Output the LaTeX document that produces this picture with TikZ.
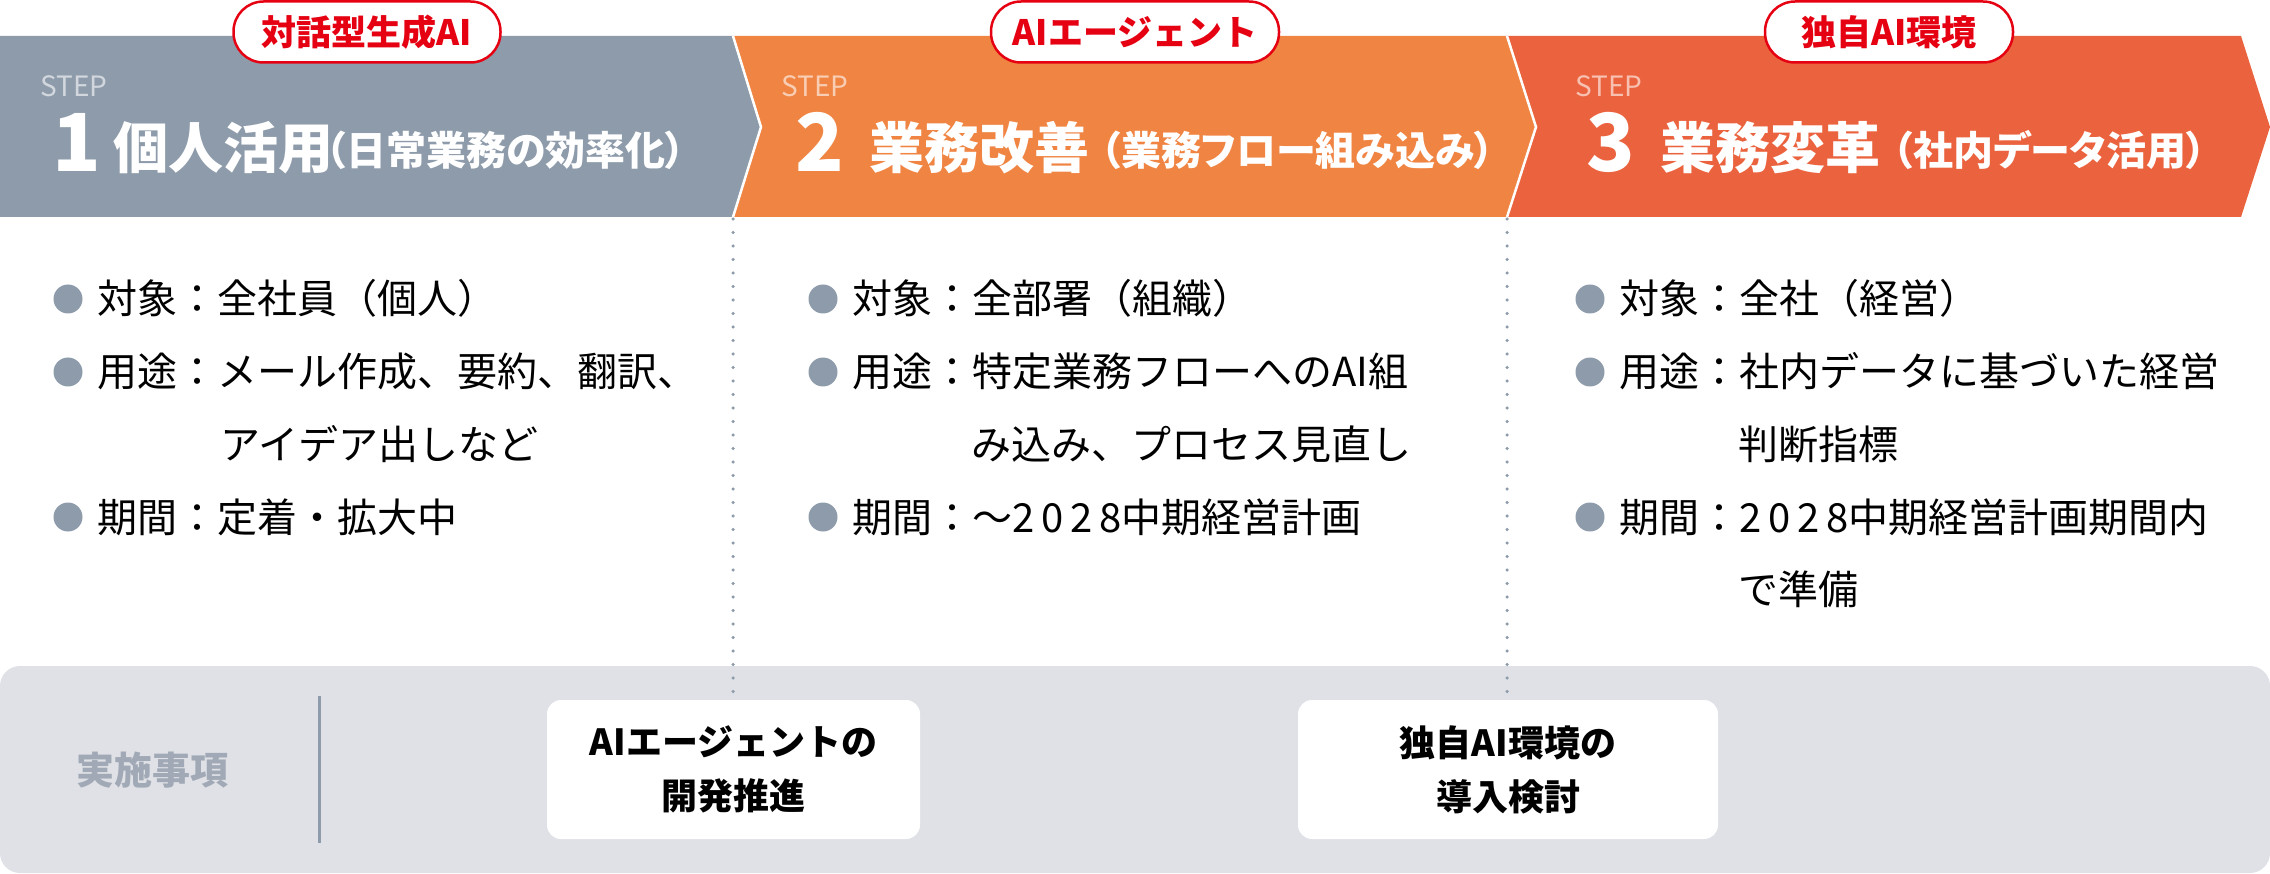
\documentclass[tikz,border=0pt]{standalone}
\usepackage{fontspec}
\setmainfont{Noto Sans CJK JP}
\newfontfamily\jpp{Noto Sans CJK JP}[RawFeature=+palt]
\newcommand\dgs[1]{{\addfontfeature{LetterSpace=17}#1}}
\definecolor{cgrey}{HTML}{8E9BAA}
\definecolor{corange}{HTML}{F08442}
\definecolor{cred}{HTML}{EB633E}
\definecolor{ctag}{HTML}{E50012}
\definecolor{cpanel}{HTML}{DFE1E6}
\definecolor{clabel}{HTML}{A0A9B5}
\tikzset{
  band/.style={draw=none},
  sep/.style={draw=white, line width=2.5pt, line join=miter},
  tagbox/.style={draw=ctag, fill=white, line width=2.5pt, rounded corners=30pt,
    minimum width=267pt, minimum height=61pt, inner sep=0pt, text=ctag,
    font=\fontsize{35}{40}\selectfont\bfseries},
  steplbl/.style={inner sep=0pt, anchor=base west, text=white, text opacity=0.6,
    font=\fontsize{28}{30}\selectfont},
  stepnum/.style={inner sep=0pt, anchor=base west, text=white,
    font=\fontsize{80}{90}\selectfont\bfseries},
  stepttl/.style={inner sep=0pt, anchor=base west, text=white,
    font=\fontsize{55}{60}\selectfont\bfseries\jpp},
  stepsub/.style={inner sep=0pt, anchor=base west, text=white,
    font=\fontsize{40}{44}\selectfont\bfseries\jpp},
  body/.style={inner sep=0pt, anchor=base west, text=black,
    font=\fontsize{40}{48}\selectfont},
  dot/.style={circle, fill=cgrey, minimum size=29pt, inner sep=0pt},
  dotline/.style={draw=cgrey, line width=3.5pt, line cap=round, dash pattern=on 0pt off 13.5pt},
  task/.style={fill=white, rounded corners=14pt, inner sep=0pt, align=center,
    font=\fontsize{36}{54}\selectfont\bfseries, text=black},
}
\begin{document}
\begin{tikzpicture}[x=1pt,y=-1pt]
\useasboundingbox (0,0) rectangle (2270,874);
% bands
\fill[cgrey] (0,36) -- (733,36) -- (761,127) -- (733,217) -- (0,217) -- cycle;
\fill[corange] (733,36) -- (1507,36) -- (1536,127) -- (1507,217) -- (733,217) -- (761,127) -- cycle;
\fill[cred] (1507,36) -- (2241,36) -- (2270,127) -- (2241,217) -- (1507,217) -- (1536,127) -- cycle;
\draw[sep] (733,36) -- (761,127) -- (733,217);
\draw[sep] (1507,36) -- (1536,127) -- (1507,217);
% tags
\node[tagbox] (tag1) at (367,32) {対話型生成AI};
\node[tagbox, minimum width=288pt] (tag2) at (1135,32) {AIエージェント};
\node[tagbox, minimum width=248pt] (tag3) at (1889,32) {独自AI環境};
% headings
\node[steplbl] (s1) at (40,97) {STEP};
\node[stepnum] (n1) at (52,172) {1};
\node[stepttl] (t1) at (113,169) {個人活用};
\node[stepsub] (u1) at (326,166) {（日常業務の効率化）};
\node[steplbl] (s2) at (781,97) {STEP};
\node[stepnum] (n2) at (795,172) {2};
\node[stepttl] (t2) at (869,169) {業務改善};
\node[stepsub] (u2) at (1101,166) {（業務フロー組み込み）};
\node[steplbl] (s3) at (1575,97) {STEP};
\node[stepnum] (n3) at (1586,172) {3};
\node[stepttl] (t3) at (1660,169) {業務変革};
\node[stepsub] (u3) at (1893,166) {（社内データ活用）};
% column 1
\node[dot] (d11) at (68,299) {};
\node[dot] (d12) at (68,372) {};
\node[dot] (d13) at (68,517) {};
\node[body] (b11) at (97,314) {対象：全社員（個人）};
\node[body] (b12) at (97,387) {用途：メール作成、要約、翻訳、};
\node[body] (b12c) at (220,459) {アイデア出しなど};
\node[body] (b13) at (97,532) {期間：定着・拡大中};
% column 2
\node[dot] (d21) at (823,299) {};
\node[dot] (d22) at (823,372) {};
\node[dot] (d23) at (823,517) {};
\node[body] (b21) at (852,314) {対象：全部署（組織）};
\node[body] (b22) at (852,387) {用途：特定業務フローへのAI組};
\node[body] (b22c) at (971,459) {み込み、プロセス見直し};
\node[body] (b23) at (852,532) {期間：～\dgs{2028}中期経営計画};
% column 3
\node[dot] (d31) at (1590,299) {};
\node[dot] (d32) at (1590,372) {};
\node[dot] (d33) at (1590,517) {};
\node[body] (b31) at (1619,314) {対象：全社（経営）};
\node[body] (b32) at (1619,387) {用途：社内データに基づいた経営};
\node[body] (b32c) at (1738,459) {判断指標};
\node[body] (b33) at (1619,532) {期間：\dgs{2028}中期経営計画期間内};
\node[body] (b33c) at (1738,604) {で準備};
% bottom panel
\fill[cpanel, rounded corners=20pt] (0,666) rectangle (2270,873);
\coordinate (v1a) at (733,219);
\coordinate (v1b) at (733,692);
\coordinate (v2a) at (1507,219);
\coordinate (v2b) at (1507,692);
\draw[dotline] (v1a) -- (v1b);
\draw[dotline] (v2a) -- (v2b);
\coordinate (la) at (319,696);
\coordinate (lb) at (319,843);
\draw[cgrey, line width=3pt] (la) -- (lb);
\node[inner sep=0pt, text=clabel, font=\fontsize{38}{44}\selectfont\bfseries] (lbl) at (152,770) {実施事項};
\node[task, minimum width=373pt, minimum height=139pt] (task1) at (733.5,769.5) {AIエージェントの\\開発推進};
\node[task, minimum width=420pt, minimum height=139pt] (task2) at (1508,769.5) {独自AI環境の\\導入検討};
\end{tikzpicture}
\end{document}
